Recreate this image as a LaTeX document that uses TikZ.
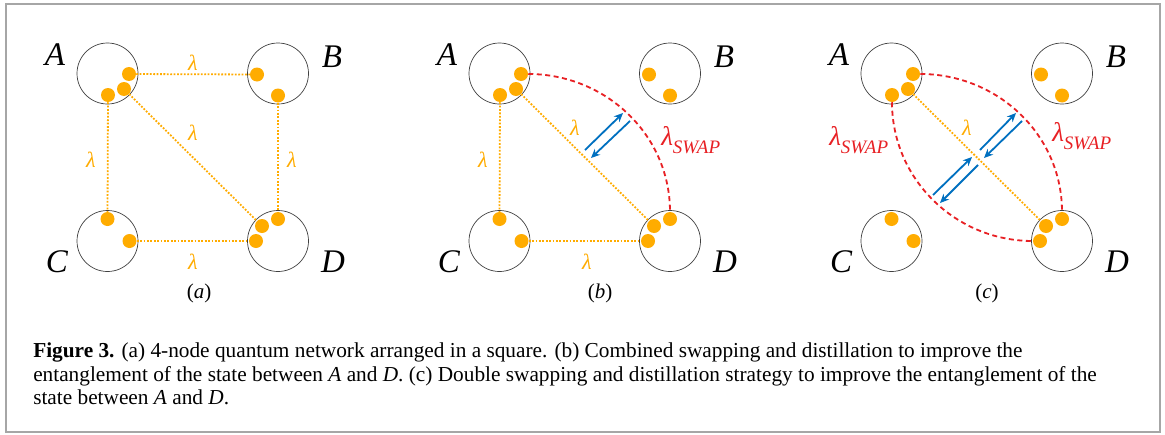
\documentclass[tikz,border=0pt]{standalone}
\usepackage{fontspec}
\setmainfont{Liberation Serif}
\usetikzlibrary{arrows.meta}
\definecolor{qorange}{RGB}{255,172,0}
\definecolor{qred}{RGB}{232,32,36}
\definecolor{qblue}{RGB}{0,112,192}
\begin{document}
\begin{tikzpicture}[x=1pt, y=-1pt, line width=0.5pt,
  site/.style={draw=black!75, line width=0.7pt, circle, minimum size=61pt, inner sep=0pt},
  qubit/.style={fill=qorange, circle, minimum size=14pt, inner sep=0pt},
  link/.style={draw=qorange, line width=1.8pt, dash pattern=on 1.8pt off 1.6pt},
  swapline/.style={draw=qred, line width=1.8pt, dash pattern=on 5pt off 3.5pt},
  flow/.style={draw=qblue, line width=1.8pt, -{Stealth[length=9pt, width=8pt]}},
  lam/.style={text=qorange, font=\fontsize{22}{22}\selectfont\itshape},
  lswap/.style={text=qred, font=\fontsize{27}{27}\selectfont\itshape, anchor=base west, inner sep=0pt},
  party/.style={font=\fontsize{33}{33}\selectfont\itshape},
  tag/.style={font=\fontsize{21}{21}\selectfont},
  captext/.style={font=\fontsize{21.3}{24}\selectfont, anchor=base west, inner sep=0pt}]
  \fill[white] (0,0) rectangle (1165,434);
  \useasboundingbox (0,0) rectangle (1165,434);
  \draw[black!35, line width=1.2pt] (6,4) rectangle (1160,432);
  \foreach \p/\sx in {a/0, b/392, c/784}{
    \begin{scope}[xshift=\sx pt]
      \node[site] (\p A) at (107.5,73.5) {};
      \node[site] (\p B) at (278,73.5) {};
      \node[site] (\p C) at (107.5,241) {};
      \node[site] (\p D) at (278,241) {};
      \node[qubit] (\p A1) at (129,74) {};
      \node[qubit] (\p A2) at (124,89) {};
      \node[qubit] (\p A3) at (108,95) {};
      \node[qubit] (\p B1) at (257,74.5) {};
      \node[qubit] (\p B2) at (278,95.5) {};
      \node[qubit] (\p C1) at (107.5,219) {};
      \node[qubit] (\p C2) at (129.5,241) {};
      \node[qubit] (\p D1) at (278,219) {};
      \node[qubit] (\p D2) at (262,226) {};
      \node[qubit] (\p D3) at (256,241) {};
      \node[party] (\p nA) at (55,55) {A};
      \node[party] (\p nB) at (332,57) {B};
      \node[party] (\p nC) at (57,262) {C};
      \node[party] (\p nD) at (333,262) {D};
    \end{scope}
  }
  \draw[link] (aA1) -- (aB1);
  \draw[link] (aA3) -- (aC1);
  \draw[link] (aB2) -- (aD1);
  \draw[link] (aC2) -- (aD3);
  \draw[link] (aA2) -- (aD2);
  \draw[link] (bA3) -- (bC1);
  \draw[link] (bC2) -- (bD3);
  \draw[link] (bA2) -- (bD2);
  \draw[link] (cA2) -- (cD2);
  \draw[swapline] (bA1) to[out=0, in=90] (bD1);
  \draw[swapline] (cA1) to[out=0, in=90] (cD1);
  \draw[swapline] (cA3) to[out=-90, in=180] (cD3);
  \foreach \n/\xc/\yc in {aAB/193/63, aAC/91/160, aBD/292/160, aCD/193/262, aAD/193/133,
    bAC/483/160, bCD/587/262, bAD/575/128, cAD/967/128}{
    \node[lam] (l\n) at (\xc,\yc) {λ};
  }
  \node[lswap] (sb) at (661,145) {λ\raisebox{-8pt}{\fontsize{19}{19}\selectfont SWAP}};
  \node[lswap] (sc1) at (829,145) {λ\raisebox{-8pt}{\fontsize{19}{19}\selectfont SWAP}};
  \node[lswap] (sc2) at (1052,141) {λ\raisebox{-8pt}{\fontsize{19}{19}\selectfont SWAP}};
  \coordinate (b1s) at (585,150); \coordinate (b1e) at (623,113);
  \coordinate (b2s) at (630,121); \coordinate (b2e) at (591,158);
  \coordinate (c1s) at (980,150); \coordinate (c1e) at (1016,113);
  \coordinate (c2s) at (1022,121); \coordinate (c2e) at (984,158);
  \coordinate (c3s) at (933,195); \coordinate (c3e) at (972,157);
  \coordinate (c4s) at (978,165); \coordinate (c4e) at (940,203);
  \foreach \s/\e in {b1s/b1e, b2s/b2e, c1s/c1e, c2s/c2e, c3s/c3e, c4s/c4e}{
    \draw[flow] (\s) -- (\e);
  }
  \node[tag] (ta) at (199,293) {(\textit{a})};
  \node[tag] (tb) at (600,293) {(\textit{b})};
  \node[tag] (tc) at (987,293) {(\textit{c})};
  \node[captext] (cap1) at (33,357) {\textbf{Figure 3.} (a) 4-node quantum network arranged in a square. (b) Combined swapping and distillation to improve the};
  \node[captext] (cap2) at (33,381) {entanglement of the state between \textit{A} and \textit{D}. (c) Double swapping and distillation strategy to improve the entanglement of the};
  \node[captext] (cap3) at (33,404) {state between \textit{A} and \textit{D}.};
\end{tikzpicture}
\end{document}
